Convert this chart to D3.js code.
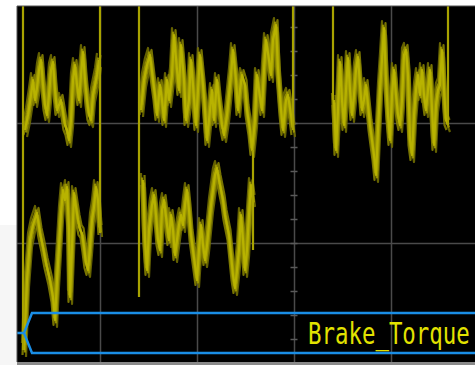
<!DOCTYPE html>
<html>
<head>
<meta charset="utf-8">
<script src="https://cdn.jsdelivr.net/npm/d3@7"></script>
<style>
  html, body { margin: 0; padding: 0; background: #fff; }
  svg { display: block; }
</style>
</head>
<body>
<div id="chart"></div>
<script>
// time in samples (97 samples / div), torque in Nm (120 Nm / div)
const channelName = "Brake_Torque";

const upperA = [[22,113],[25,128],[28,148],[30,163],[32,143],[34,155],[36,173],[38,183],[40,158],[42,138],[44,128],[46,148],[48,173],[50,181],[52,153],[54,133],[56,138],[58,143],[60,131],[62,118],[64,113],[66,103],[68,123],[70,163],[72,178],[74,158],[76,143],[78,168],[80,191],[82,163],[84,143],[86,128],[88,123],[90,148],[92,158],[94,168],[96,183]];

const lowerA = [[21,-107],[24,-37],[27,3],[30,18],[34,30],[37,10],[40,-4],[43,-20],[47,-37],[50,-54],[52,-77],[54,-37],[56,-4],[58,30],[60,53],[62,43],[64,56],[66,13],[67,-54],[69,-4],[71,50],[73,36],[75,23],[77,13],[79,10],[81,-4],[83,-20],[85,-27],[87,-4],[89,23],[91,36],[93,56],[95,43],[97,13]];

const upperB = [[138,133],[141,163],[144,178],[147,188],[150,163],[152,148],[154,128],[157,158],[159,143],[161,123],[164,163],[166,143],[169,168],[171,208],[174,173],[176,153],[178,198],[181,163],[183,123],[186,143],[188,183],[190,158],[193,118],[195,153],[197,188],[200,158],[202,133],[204,103],[207,133],[209,153],[211,123],[214,163],[216,143],[219,118],[221,108],[224,128],[226,148],[228,168],[230,193],[233,163],[235,133],[237,153],[239,168],[242,158],[244,133],[247,113],[249,93],[252,123],[254,168],[256,153],[259,133],[261,173],[263,203],[266,183],[268,168],[270,203],[273,218],[275,173],[278,133],[280,113],[283,143],[285,148],[288,128],[290,113]];

const lowerB = [[140,63],[142,3],[144,-27],[146,13],[149,38],[151,48],[153,28],[155,3],[157,-7],[159,33],[161,43],[164,18],[166,3],[168,28],[170,13],[172,-12],[174,3],[176,18],[178,28],[180,18],[182,38],[184,53],[186,33],[188,8],[190,-7],[192,-22],[194,-37],[196,-7],[198,18],[200,-2],[202,-17],[204,-2],[206,18],[208,38],[210,53],[212,68],[214,75],[216,63],[218,53],[220,43],[222,28],[224,18],[226,8],[228,-12],[230,-32],[232,-45],[234,-27],[236,-7],[238,28],[240,3],[242,-27],[244,-7],[246,28],[248,58],[250,43]];

const upperC = [[331,143],[333,93],[335,133],[337,181],[339,143],[341,118],[343,153],[345,185],[347,153],[349,128],[351,148],[353,173],[355,186],[357,158],[359,133],[361,143],[363,158],[365,138],[367,118],[369,103],[371,88],[373,68],[375,113],[377,153],[379,183],[381,215],[383,163],[385,128],[387,103],[389,148],[391,173],[393,148],[395,128],[397,118],[399,143],[401,188],[403,193],[405,168],[407,103],[409,88],[411,128],[413,153],[415,168],[417,148],[419,173],[421,148],[423,133],[425,153],[427,173],[429,133],[431,98],[433,138],[435,153],[437,158],[439,193],[441,153],[443,123],[445,118]];

// vertical transitions: [time, from, to]
const edges = [[20,237,-107],[97,237,10],[136,237,-54],[250,93,-7],[290,237,113],[330,237,143],[445,237,118]];

const W = 475, H = 365;
const plot = { left: 17, right: 475, top: 6, bottom: 362 };

const x = d3.scaleLinear().domain([0, 485]).range([3, 488]);
const y = d3.scaleLinear().domain([-120, 240]).range([363, 3]);

const svg = d3.select("#chart").append("svg")
  .attr("width", W).attr("height", H);

svg.append("rect").attr("x", 0).attr("y", 225).attr("width", plot.left).attr("height", H - 225)
  .attr("fill", "#f6f6f6");

svg.append("defs").append("clipPath").attr("id", "clip")
  .append("rect")
  .attr("x", plot.left).attr("y", plot.top)
  .attr("width", plot.right - plot.left).attr("height", plot.bottom - plot.top);

svg.append("rect")
  .attr("x", plot.left).attr("y", plot.top)
  .attr("width", plot.right - plot.left).attr("height", plot.bottom - plot.top)
  .attr("fill", "#000");

const g = svg.append("g").attr("clip-path", "url(#clip)");

// grid
g.append("g")
  .attr("transform", `translate(0,${plot.bottom})`)
  .call(d3.axisBottom(x).tickValues(d3.range(0, 486, 97)).tickSize(-(plot.bottom - plot.top)).tickFormat(""))
  .call(a => a.select(".domain").remove())
  .call(a => a.selectAll(".tick line").attr("stroke", "#4a4a4a").attr("stroke-width", 1.5));

g.append("g")
  .attr("transform", `translate(${plot.left},0)`)
  .call(d3.axisLeft(y).tickValues([-120, 0, 120, 240]).tickSize(-(plot.right - plot.left)).tickFormat(""))
  .call(a => a.select(".domain").remove())
  .call(a => a.selectAll(".tick line").attr("stroke", "#4a4a4a").attr("stroke-width", 1.5));

// center axis minor ticks
g.append("g")
  .attr("transform", `translate(${x(291) - 3.5},0)`)
  .call(d3.axisRight(y).tickValues(d3.range(-120, 241, 24)).tickSize(7).tickFormat(""))
  .call(a => a.select(".domain").remove())
  .call(a => a.selectAll(".tick line").attr("stroke", "#5a5a5a").attr("stroke-width", 1.5));

// traces: drawn several times with small pixel shifts to get the persistence band look
const line = d3.line().x(d => x(d[0])).y(d => y(d[1]));
const traces = [upperA, lowerA, upperB, lowerB, upperC];
const smear = [
  [-2, -7, "#6f6b00"], [2, 7, "#6f6b00"],
  [1.5, -5, "#858100"], [-1.5, 5, "#858100"],
  [-1, -2.5, "#9d9800"], [1, 2.5, "#9d9800"],
  [0, 0, "#bbb600"]
];

smear.forEach(([dx, dy, c]) => {
  g.append("g").attr("transform", `translate(${dx},${dy})`)
    .selectAll("path").data(traces).enter().append("path")
    .attr("d", line)
    .attr("fill", "none")
    .attr("stroke", c)
    .attr("stroke-opacity", 0.9)
    .attr("stroke-width", 2.2)
    .attr("stroke-linejoin", "round");
});

g.selectAll(null).data(edges).enter().append("line")
  .attr("x1", d => x(d[0])).attr("x2", d => x(d[0]))
  .attr("y1", d => y(d[1])).attr("y2", d => y(d[2]))
  .attr("stroke", "#a8a300")
  .attr("stroke-width", 2.2);

// channel label bracket
const mid = 333, half = 20;
g.append("path")
  .attr("d", `M${plot.left},${mid} L24,${mid} L32,${mid - half} L${plot.right},${mid - half} M24,${mid} L32,${mid + half} L${plot.right},${mid + half}`)
  .attr("fill", "none")
  .attr("stroke", "#1a8ee6")
  .attr("stroke-width", 2.5);

g.append("text")
  .attr("transform", `translate(308,344) scale(1,1.38)`)
  .attr("font-family", "DejaVu Sans Mono, monospace")
  .attr("font-size", 22.4)
  .attr("fill", "#e2e200")
  .text(channelName);

// frame
svg.append("line").attr("x1", plot.left).attr("x2", plot.right).attr("y1", plot.top).attr("y2", plot.top)
  .attr("stroke", "#555").attr("stroke-width", 1);
svg.append("line").attr("x1", plot.left).attr("x2", plot.left).attr("y1", plot.top).attr("y2", plot.bottom)
  .attr("stroke", "#555").attr("stroke-width", 1);
svg.append("rect").attr("x", plot.left).attr("y", plot.bottom).attr("width", plot.right - plot.left).attr("height", 3)
  .attr("fill", "#8a8a8a");
</script>
</body>
</html>
